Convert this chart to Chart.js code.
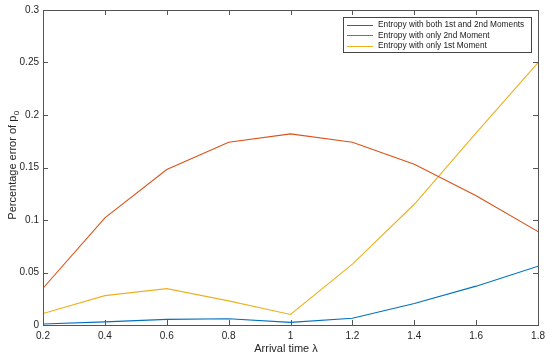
<!DOCTYPE html>
<html>
<head>
<meta charset="utf-8">
<script src="https://cdn.jsdelivr.net/npm/chart.js@4/dist/chart.umd.min.js"></script>
<style>
html,body{margin:0;padding:0;background:#fff;}
#wrap{width:550px;height:357px;}
</style>
</head>
<body>
<div id="wrap"><canvas id="c" width="550" height="357"></canvas></div>
<script>
const lambdas = [0.2, 0.4, 0.6, 0.8, 1.0, 1.2, 1.4, 1.6, 1.8];
const bothMoments = [0.001, 0.003, 0.0054, 0.006, 0.0025, 0.0065, 0.0204, 0.037, 0.056];
const only2nd = [0.035, 0.102, 0.148, 0.174, 0.182, 0.174, 0.153, 0.123, 0.089];
const only1st = [0.011, 0.028, 0.0346, 0.023, 0.010, 0.058, 0.115, 0.183, 0.250];
const seriesNames = ["Entropy with both 1st and 2nd Moments", "Entropy with only 2nd Moment", "Entropy with only 1st Moment"];
const xTicks = [0.2, 0.4, 0.6, 0.8, 1, 1.2, 1.4, 1.6, 1.8];
const yTicks = [0, 0.05, 0.1, 0.15, 0.2, 0.25, 0.3];
const colors = ["#0072BD", "#D95319", "#EDB120"];

const FONT = "'Liberation Sans', Arial, sans-serif";
const AX = "#555555";

function pts(ys){ return lambdas.map((x,i)=>({x:x,y:ys[i]})); }

const frame = {
  id: 'frame',
  afterDraw(chart){
    const ctx = chart.ctx, a = chart.chartArea;
    const xs = chart.scales.x, ys = chart.scales.y;
    ctx.save();
    ctx.strokeStyle = AX; ctx.lineWidth = 1;
    ctx.strokeRect(Math.round(a.left)+0.5, Math.round(a.top)+0.5, Math.round(a.right-a.left), Math.round(a.bottom-a.top));
    const tl = 5;
    ctx.beginPath();
    xTicks.forEach(v=>{
      const px = Math.round(xs.getPixelForValue(v))+0.5;
      ctx.moveTo(px, a.bottom); ctx.lineTo(px, a.bottom-tl);
      ctx.moveTo(px, a.top); ctx.lineTo(px, a.top+tl);
    });
    yTicks.forEach(v=>{
      const py = Math.round(ys.getPixelForValue(v))+0.5;
      ctx.moveTo(a.left, py); ctx.lineTo(a.left+tl, py);
      ctx.moveTo(a.right, py); ctx.lineTo(a.right-tl, py);
    });
    ctx.stroke();

    // axis titles
    ctx.fillStyle = "#262626";
    ctx.font = "11px " + FONT;
    ctx.textAlign = "center"; ctx.textBaseline = "middle";
    ctx.fillText("Arrival time \u03bb", 286, 349);

    ctx.save();
    ctx.translate(13, (a.top+a.bottom)/2 - 2);
    ctx.rotate(-Math.PI/2);
    const main = "Percentage error of p";
    ctx.font = "11px " + FONT;
    const w1 = ctx.measureText(main).width;
    ctx.font = "8px " + FONT;
    const w2 = ctx.measureText("0").width;
    const start = -(w1+w2)/2;
    ctx.textAlign = "left";
    ctx.font = "11px " + FONT;
    ctx.fillText(main, start, 0);
    ctx.font = "8px " + FONT;
    ctx.fillText("0", start+w1+0.5, 4);
    ctx.restore();

    // legend
    const lx = 343, ly = 17, lw = 188, lh = 35;
    ctx.fillStyle = "#fff";
    ctx.fillRect(lx, ly, lw, lh);
    ctx.strokeStyle = "#444"; ctx.lineWidth = 1;
    ctx.strokeRect(lx+0.5, ly+0.5, lw, lh);
    ctx.font = "8.3px " + FONT;
    ctx.textAlign = "left"; ctx.textBaseline = "middle";
    chart.data.datasets.forEach((ds,i)=>{
      const y = 24.5 + i*10.5;
      ctx.strokeStyle = ds.borderColor; ctx.lineWidth = 1;
      ctx.beginPath(); ctx.moveTo(347, Math.round(y)+0.5); ctx.lineTo(373, Math.round(y)+0.5); ctx.stroke();
      ctx.fillStyle = "#1a1a1a";
      ctx.fillText(ds.label, 378, y+0.5);
    });
    ctx.restore();
  }
};

new Chart(document.getElementById('c'), {
  type: 'line',
  data: {
    datasets: [
      {label: seriesNames[0], data: pts(bothMoments), borderColor: colors[0]},
      {label: seriesNames[1], data: pts(only2nd), borderColor: colors[1]},
      {label: seriesNames[2], data: pts(only1st), borderColor: colors[2]}
    ].map(d=>Object.assign(d,{borderWidth:1.1, pointRadius:0, fill:false, tension:0}))
  },
  options: {
    responsive: false,
    animation: false,
    layout: {padding: {top: 7, right: 10, left: 0, bottom: 0}},
    plugins: {legend: {display:false}, tooltip: {enabled:false}},
    scales: {
      x: {
        type: 'linear', min: 0.2, max: 1.8,
        afterBuildTicks(s){ s.ticks = xTicks.map(v=>({value:v})); },
        afterFit(s){ s.height = 32; },
        grid: {display:false, drawTicks:false},
        border: {display:false},
        ticks: {color:"#262626", font:{family:FONT, size:10}, padding:5, maxRotation:0,
          callback:(v)=>String(Math.round(v*10)/10)}
      },
      y: {
        min: 0, max: 0.3,
        afterBuildTicks(s){ s.ticks = yTicks.map(v=>({value:v})); },
        afterFit(s){ s.width = 43; },
        grid: {display:false, drawTicks:false},
        border: {display:false},
        ticks: {color:"#262626", font:{family:FONT, size:10}, padding:4,
          callback:(v)=>String(Math.round(v*100)/100)}
      }
    }
  },
  plugins: [frame]
});
</script>
</body>
</html>
